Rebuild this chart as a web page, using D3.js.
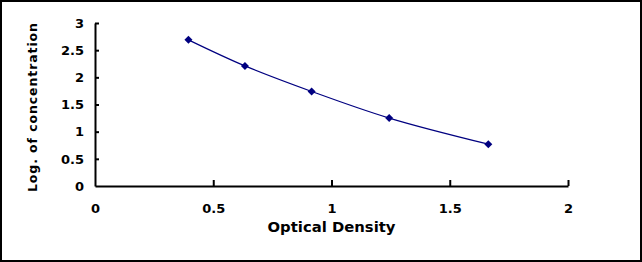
<!DOCTYPE html>
<html>
<head>
<meta charset="utf-8">
<script src="https://cdn.jsdelivr.net/npm/d3@7"></script>
<style>
html,body{margin:0;padding:0;background:#fff;}
svg{display:block;}
text{font-family:"DejaVu Sans","Liberation Sans",Arial,sans-serif;font-weight:bold;}
</style>
</head>
<body>
<svg id="chart" width="642" height="262"></svg>
<script>
const odValues = [0.395, 0.634, 0.916, 1.244, 1.663];
const logConc = [2.69, 2.21, 1.74, 1.25, 0.77];
const xTicks = [0, 0.5, 1, 1.5, 2];
const yTicks = [0, 0.5, 1, 1.5, 2, 2.5, 3];
const xTitle = "Optical Density";
const yTitle = "Log. of concentration";

const svg = d3.select("#chart");
const W = 642, H = 262;
const m = {left: 95, right: 74, top: 23, bottom: 76};
const FONT = "DejaVu Sans, Liberation Sans, Arial, sans-serif";

svg.append("rect").attr("x",1).attr("y",1).attr("width",W-2).attr("height",H-2)
  .attr("fill","#fff").attr("stroke","#000").attr("stroke-width",2);

const x = d3.scaleLinear().domain([0,2]).range([m.left, W-m.right]);
const y = d3.scaleLinear().domain([0,3]).range([H-m.bottom, m.top]);

const xAxis = svg.append("g").attr("transform",`translate(0,${y(0)})`)
  .call(d3.axisBottom(x).tickValues(xTicks).tickFormat(d3.format("")).tickSizeInner(-6).tickSizeOuter(0).tickPadding(18));
const yAxis = svg.append("g").attr("transform",`translate(${x(0)},0)`)
  .call(d3.axisLeft(y).tickValues(yTicks).tickFormat(d3.format("")).tickSizeInner(-4).tickSizeOuter(0).tickPadding(11));

[xAxis,yAxis].forEach(g=>{
  g.select(".domain").attr("stroke","#000").attr("stroke-width",2);
  g.selectAll(".tick line").attr("stroke","#000").attr("stroke-width",2);
  g.selectAll(".tick text").attr("fill","#000").attr("font-size",13).attr("font-family",FONT).attr("font-weight","bold");
});
xAxis.selectAll(".tick").filter(d=>d===0).select("line").remove();
yAxis.selectAll(".tick").filter(d=>d===0).select("line").remove();

const pts = odValues.map((v,i)=>[v, logConc[i]]);
const line = d3.line().x(d=>x(d[0])).y(d=>y(d[1])).curve(d3.curveCatmullRom.alpha(0.5));
svg.append("path").datum(pts).attr("d",line).attr("fill","none").attr("stroke","#000080").attr("stroke-width",1.2);

svg.selectAll(".pt").data(pts).enter().append("path")
  .attr("transform",d=>`translate(${x(d[0])},${y(d[1])})`)
  .attr("d","M0,-4L4,0L0,4L-4,0Z").attr("fill","#000080");

svg.append("text").attr("x",(x(0)+x(2))/2).attr("y",232).attr("text-anchor","middle")
  .attr("font-size",13.5).attr("fill","#000")
  .attr("textLength",128).attr("lengthAdjust","spacingAndGlyphs").text(xTitle);
svg.append("text").attr("transform",`translate(37,107.5) rotate(-90)`).attr("text-anchor","middle")
  .attr("font-size",12.5).attr("fill","#000")
  .attr("textLength",169).attr("lengthAdjust","spacing").text(yTitle);
</script>
</body>
</html>
